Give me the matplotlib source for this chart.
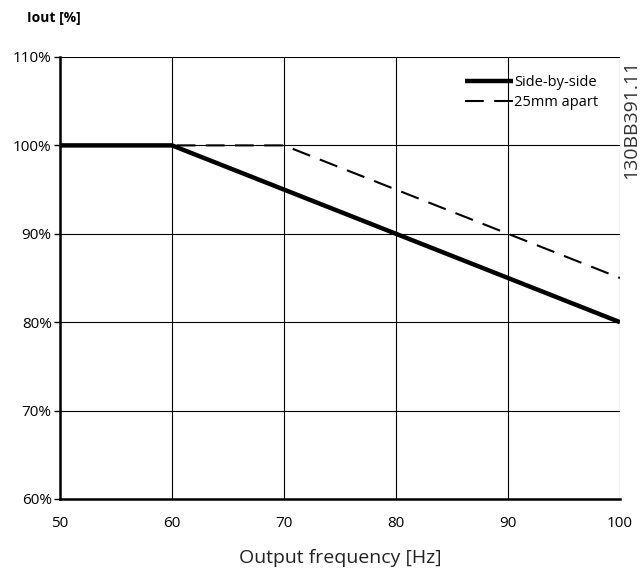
import matplotlib.pyplot as plt

freq = [50, 60, 70, 80, 90, 100]
side_by_side = [100, 100, 95, 90, 85, 80]
apart_25mm = [100, 100, 100, 95, 90, 85]
yticks = [60, 70, 80, 90, 100, 110]
ytick_labels = ['60%', '70%', '80%', '90%', '100%', '110%']

plt.rcParams['font.family'] = ['Open Sans', 'DejaVu Sans']

fig = plt.figure(figsize=(6.43, 5.70), dpi=100)
ax = fig.add_axes([0.0933, 0.1246, 0.8709, 0.7754])

ax.plot(freq, side_by_side, color='black', lw=3.2, solid_capstyle='butt', label='Side-by-side', zorder=3)
ax.plot(freq, apart_25mm, color='black', lw=1.5, dashes=(9, 5), label='25mm apart', zorder=3)

ax.set_xlim(50, 100)
ax.set_ylim(60, 110)
ax.set_xticks(freq)
ax.set_yticks(yticks)
ax.set_yticklabels(ytick_labels)
ax.grid(True, color='black', lw=0.8)
for s in ['top', 'right']:
    ax.spines[s].set_visible(False)
for s in ['left', 'bottom']:
    ax.spines[s].set_linewidth(1.8)
ax.tick_params(axis='y', length=4, width=1, labelsize=11, pad=2)
ax.tick_params(axis='x', length=0, labelsize=11, pad=12)

ax.set_xlabel('Output frequency [Hz]', fontsize=14, labelpad=13, color='#222222')
fig.text(0.042, 0.968, 'Iout [%]', fontsize=10, fontweight='bold', ha='left', va='center')
fig.text(0.982, 0.79, '130BB391.11', rotation=90, fontsize=14, ha='center', va='center', color='#333333')

leg = ax.legend(loc='upper right', frameon=False, fontsize=10.5, handlelength=3.3,
                handletextpad=0.1, borderaxespad=0.4, labelspacing=0.3,
                bbox_to_anchor=(0.982, 0.985))

fig.savefig('out.png', dpi=100)
